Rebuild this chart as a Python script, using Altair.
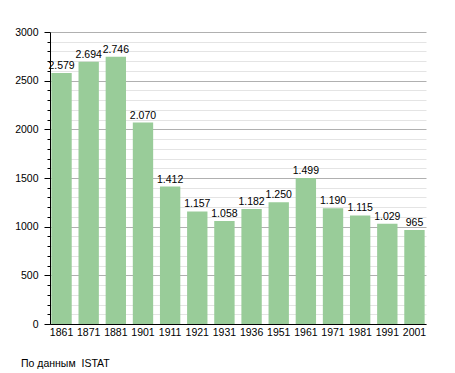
import altair as alt
import pandas as pd

years = ["1861", "1871", "1881", "1901", "1911", "1921", "1931", "1936",
         "1951", "1961", "1971", "1981", "1991", "2001"]
population = [2579, 2694, 2746, 2070, 1412, 1157, 1058, 1182,
              1250, 1499, 1190, 1115, 1029, 965]
y_ticks = list(range(0, 3001, 100))
source_note = "По данным\u00a0 ISTAT"

df = pd.DataFrame({"year": years, "pop": population})

FONT = "Liberation Sans"

base = alt.Chart(df).encode(
    x=alt.X("year:N", sort=None, title=None,
            scale=alt.Scale(paddingInner=0.25, paddingOuter=0.05),
            axis=alt.Axis(labelAngle=0, ticks=False, domainColor="black",
                          labelFont=FONT, labelFontSize=10.5, labelColor="black",
                          labelPadding=3, grid=False)),
    y=alt.Y("pop:Q", title=None,
            scale=alt.Scale(domain=[0, 3000], nice=False),
            axis=alt.Axis(values=y_ticks,
                          labelExpr="datum.value % 500 == 0 ? datum.value : ''",
                          labelFont=FONT, labelFontSize=10.5, labelColor="black",
                          labelPadding=6, domainColor="black",
                          tickColor="black",
                          tickSize={"condition": {"test": "datum.value % 500 == 0", "value": 6}, "value": 3},
                          gridColor={"condition": {"test": "datum.value % 500 == 0", "value": "#b0b0b0"}, "value": "#e4e4e4"},
                          gridWidth=1)),
)

bars = base.mark_bar(color="#99cc99")
labels = base.mark_text(baseline="bottom", dy=-2, font=FONT, fontSize=10.5, color="black").encode(
    text=alt.Text("label:N")
).transform_calculate(label="replace(format(datum.pop, ','), ',', '.')")

chart = (bars + labels).properties(
    width=376, height=292,
    autosize=alt.AutoSizeParams(type="none"),
    padding={"left": 42, "top": 24, "right": 21, "bottom": 49},
    title=alt.TitleParams(source_note, orient="bottom", anchor="start", frame="group",
                          font=FONT, fontSize=10.5, fontWeight="normal",
                          color="black", offset=21, dx=-29),
).configure_view(stroke=None)

chart.save("out.html", embed_options={"renderer": "svg", "actions": False})
